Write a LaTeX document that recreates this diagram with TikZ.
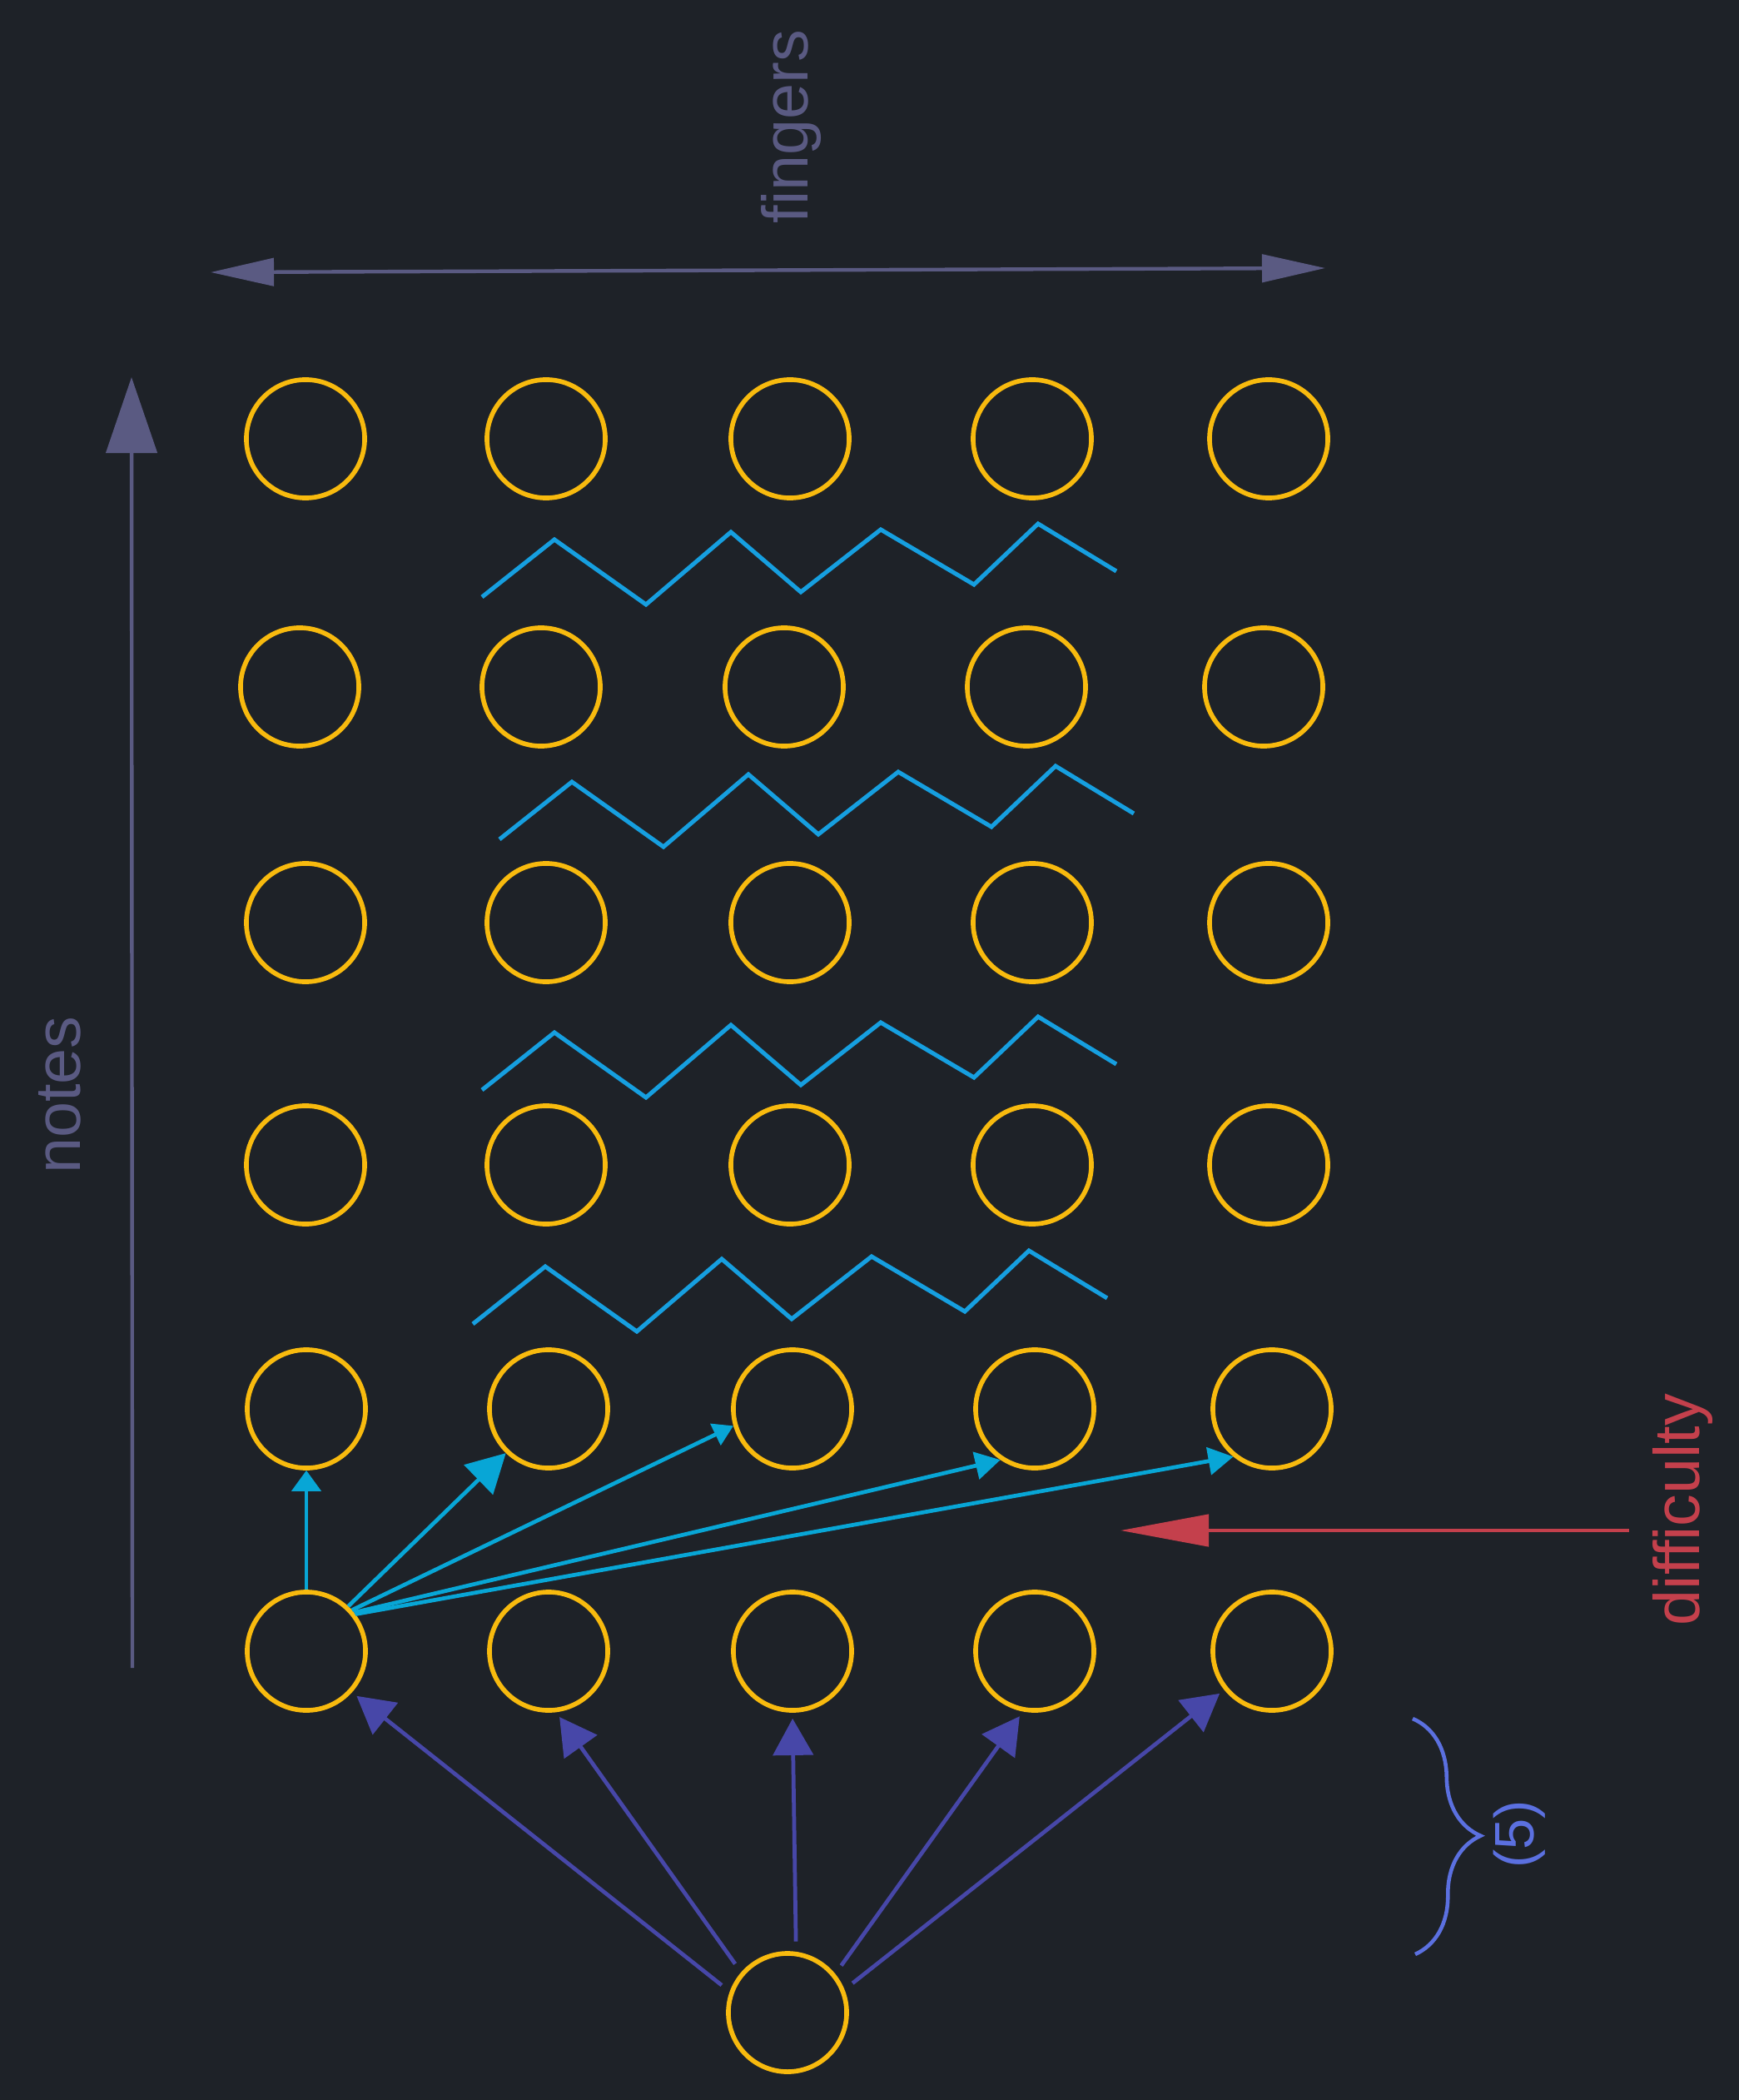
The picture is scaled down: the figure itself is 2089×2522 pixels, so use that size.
\documentclass[tikz,border=0pt]{standalone}
\usepackage{fontspec}
\setmainfont{Liberation Sans}
\usetikzlibrary{arrows.meta,decorations.pathreplacing}
\definecolor{bgcol}{HTML}{1E2228}
\definecolor{gold}{HTML}{F8BA0E}
\definecolor{axisgrey}{HTML}{5A5A82}
\definecolor{zigblue}{HTML}{169FE0}
\definecolor{jumpblue}{HTML}{08A6D6}
\definecolor{pullpurple}{HTML}{4747A8}
\definecolor{diffred}{HTML}{C4404C}
\definecolor{bracecol}{HTML}{5B70E0}

\begin{document}
\begin{tikzpicture}[x=0.01cm,y=-0.01cm,
  ring/.style={circle,draw=gold,line width=1.6pt,minimum size=1.42cm,inner sep=0pt},
  zig/.style={draw=zigblue,line width=1.45pt},
  axis/.style={draw=axisgrey,line width=1.25pt},
  jump/.style={draw=jumpblue,line width=1.35pt},
  pull/.style={draw=pullpurple,line width=1.35pt,shorten <=3.5pt,shorten >=2pt,-{Triangle[length=0.44cm,width=0.48cm]}},
  lbl/.style={font=\fontsize{22}{26}\selectfont,rotate=90,anchor=base,inner sep=0pt}]
            \useasboundingbox (0,0) rectangle (2089,2522);
            \fill[bgcol] (0,0) rectangle (2089,2522);

            % grid of notes x fingers
            \node[ring] (n11) at (367,527) {};
            \node[ring] (n12) at (656,527) {};
            \node[ring] (n13) at (949,527) {};
            \node[ring] (n14) at (1240,527) {};
            \node[ring] (n15) at (1524,527) {};

            \node[ring] (n21) at (360,825) {};
            \node[ring] (n22) at (650,825) {};
            \node[ring] (n23) at (942,825) {};
            \node[ring] (n24) at (1233,825) {};
            \node[ring] (n25) at (1518,825) {};

            \node[ring] (n31) at (367,1108) {};
            \node[ring] (n32) at (656,1108) {};
            \node[ring] (n33) at (949,1108) {};
            \node[ring] (n34) at (1240,1108) {};
            \node[ring] (n35) at (1524,1108) {};

            \node[ring] (n41) at (367,1399) {};
            \node[ring] (n42) at (656,1399) {};
            \node[ring] (n43) at (949,1399) {};
            \node[ring] (n44) at (1240,1399) {};
            \node[ring] (n45) at (1524,1399) {};

            \node[ring] (n51) at (368,1692) {};
            \node[ring] (n52) at (659,1692) {};
            \node[ring] (n53) at (952,1692) {};
            \node[ring] (n54) at (1243,1692) {};
            \node[ring] (n55) at (1528,1692) {};

            \node[ring] (n61) at (368,1983) {};
            \node[ring] (n62) at (659,1983) {};
            \node[ring] (n63) at (952,1983) {};
            \node[ring] (n64) at (1243,1983) {};
            \node[ring] (n65) at (1528,1983) {};

            \node[ring] (src) at (946,2417) {};

            % zigzags between rows
            \draw[zig] (579,717) -- ++(87,-69) -- ++(110,78) -- ++(102,-87) -- ++(84,72) -- ++(96,-75) -- ++(112,66) -- ++(77,-73) -- ++(94,57);
            \draw[zig] (600,1008) -- ++(87,-69) -- ++(110,78) -- ++(102,-87) -- ++(84,72) -- ++(96,-75) -- ++(112,66) -- ++(77,-73) -- ++(94,57);
            \draw[zig] (579,1309) -- ++(87,-69) -- ++(110,78) -- ++(102,-87) -- ++(84,72) -- ++(96,-75) -- ++(112,66) -- ++(77,-73) -- ++(94,57);
            \draw[zig] (568,1590) -- ++(87,-69) -- ++(110,78) -- ++(102,-87) -- ++(84,72) -- ++(96,-75) -- ++(112,66) -- ++(77,-73) -- ++(94,57);

            \draw[pull] (src.160) -- (n61.318);
            \draw[pull] (src.139) -- (n62.277);
            \draw[pull] (src.82) -- (n63.270);
            \draw[pull] (src.39) -- (n64.259);
            \draw[pull] (src.22) -- (n65.219);

            \draw[jump,-{Triangle[length=0.25cm,width=0.35cm]}] (n61) -- (n51);
            \draw[jump,-{Triangle[length=0.46cm,width=0.49cm]}] (n61.47) -- (n52.226);
            \draw[jump,-{Triangle[length=0.24cm,width=0.28cm]}] (n61.42) -- (n53.196);
            \draw[jump,-{Triangle[length=0.3cm,width=0.33cm]}] (n61.39) -- (n54.236);
            \draw[jump,-{Triangle[length=0.3cm,width=0.33cm]}] (n61.37) -- (n55.231);

            % axes
            \coordinate (notesfoot) at (159,2003);
            \coordinate (notestip) at (158,453);
            \coordinate (fingl) at (253,327);
            \coordinate (fingr) at (1592,322);
            \draw[axis,-{Triangle[length=0.91cm,width=0.61cm]}] (notesfoot) -- (notestip);
            \draw[axis,{Triangle[length=0.76cm,width=0.33cm]}-{Triangle[length=0.76cm,width=0.33cm]}] (fingl) -- (fingr);
            \node[lbl,text=axisgrey] (fingerslbl) at (970,152) {fingers};
            \node[lbl,text=axisgrey] (noteslbl) at (97,1315) {notes};

            \coordinate (difffoot) at (1957,1838);
            \coordinate (difftip) at (1346,1838);
            \draw[draw=diffred,line width=1.3pt,-{Triangle[length=1.06cm,width=0.38cm]}] (difffoot) -- (difftip);
            \node[lbl,text=diffred] (difflbl) at (2041,1813) {difficulty};

            \coordinate (bracetop) at (1697,2064);
            \coordinate (bracebot) at (1700,2347);
            \draw[bracecol,line width=1.3pt,decorate,decoration={brace,amplitude=0.8cm}] (bracetop) -- (bracebot);
            \node[lbl,text=bracecol,font=\fontsize{19}{23}\selectfont] (fivelbl) at (1842,2203) {(5)};
          \end{tikzpicture}
\end{document}
